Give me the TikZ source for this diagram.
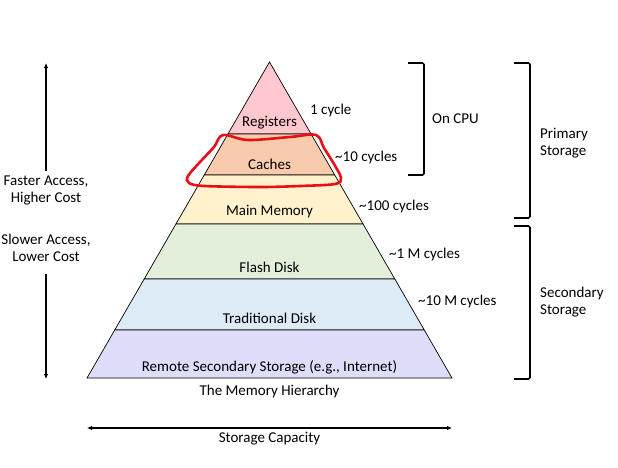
\documentclass[tikz,border=0pt]{standalone}
\usepackage{fontspec}
\setmainfont{Carlito}
\usetikzlibrary{arrows.meta,positioning,calc}

\definecolor{regc}{RGB}{255,199,206}
\definecolor{cachec}{RGB}{248,203,173}
\definecolor{memc}{RGB}{255,242,204}
\definecolor{flashc}{RGB}{226,239,218}
\definecolor{diskc}{RGB}{221,235,247}
\definecolor{netc}{RGB}{222,222,250}
\definecolor{markc}{RGB}{232,16,24}

\begin{document}
\begin{tikzpicture}[x=1pt,y=-1pt,
  lbl/.style={font=\fontsize{15}{17}\selectfont, align=center, inner sep=0pt},
  lvl/.style={draw=black, line width=0.7pt},
  arr/.style={-{Latex[length=5pt,width=4.5pt]}, line width=1.6pt},
  brk/.style={line width=1.6pt, rounded corners=1.5pt}
]
\useasboundingbox (0,0) rectangle (618,467);

% pyramid layers
\foreach \yt/\yb/\col in {62/134/regc, 134/175/cachec, 175/224/memc,
                          224/279/flashc, 279/330/diskc, 330/378/netc}{
  \pgfmathsetmacro{\wt}{0.5775*(\yt-62)}
  \pgfmathsetmacro{\wb}{0.5775*(\yb-62)}
  \filldraw[lvl, fill=\col] (269.5-\wt,\yt) -- (269.5+\wt,\yt)
    -- (269.5+\wb,\yb) -- (269.5-\wb,\yb) -- cycle;
}

\node[lbl] (reg) at (269.5,123) {Registers};
\node[lbl] (cache) at (269.5,164) {Caches};
\node[lbl] (mem) at (269.5,212) {Main Memory};
\node[lbl] (flash) at (269.5,267) {Flash Disk};
\node[lbl] (disk) at (269.5,318) {Traditional Disk};
\node[lbl] (net) at (269.5,367) {Remote Secondary Storage (e.g., Internet)};

% access times
\node[lbl, anchor=west] (c1) at (310,110) {1 cycle};
\node[lbl, anchor=west] (c10) at (335,157) {\textasciitilde10 cycles};
\node[lbl, anchor=west] (c100) at (359,206) {\textasciitilde100 cycles};
\node[lbl, anchor=west] (c1m) at (389,254) {\textasciitilde1 M cycles};
\node[lbl, anchor=west] (c10m) at (418,301) {\textasciitilde10 M cycles};

% brackets
\coordinate (cput) at (424,63);
\coordinate (cpub) at (424,175);
\draw[brk] ($(cput)+(-16,0)$) -- (cput) -- (cpub) -- ($(cpub)+(-16,0)$);
\node[lbl, anchor=west] (cpu) at (432,119) {On CPU};

\coordinate (primt) at (530,63);
\coordinate (primb) at (530,218);
\draw[brk] ($(primt)+(-16,0)$) -- (primt) -- (primb) -- ($(primb)+(-16,0)$);
\node[lbl, anchor=west, align=left] (prim) at (540,143) {Primary\\Storage};

\coordinate (sect) at (530,226);
\coordinate (secb) at (530,379);
\draw[brk] ($(sect)+(-16,0)$) -- (sect) -- (secb) -- ($(secb)+(-16,0)$);
\node[lbl, anchor=west, align=left] (sec) at (540,302) {Secondary\\Storage};

% speed / cost
\node[lbl] (fast) at (46,190) {Faster Access,\\Higher Cost};
\node[lbl] (slow) at (46,248) {Slower Access,\\Lower Cost};
\coordinate (top) at (46,63);
\coordinate (bot) at (46,379);
\draw[arr] ([yshift=4pt]fast.north) -- (top);
\draw[arr] ([yshift=-12pt]slow.south) -- (bot);

% capacity
\node[lbl] (title) at (269.5,391) {The Memory Hierarchy};
\coordinate (capl) at (87,428);
\coordinate (capr) at (452,428);
\draw[arr, line width=1.3pt, {Latex[length=5pt,width=4.5pt]}-{Latex[length=5pt,width=4.5pt]}] (capl) -- (capr);
\node[lbl] (cap) at (269.5,439) {Storage Capacity};

% hand-drawn highlight
\draw[markc, line width=2.6pt] plot[smooth cycle, tension=0.55] coordinates {
  (223,135) (248,140) (290,137) (316,135) (324,148) (334,164) (341,178)
  (335,184) (300,186) (260,187) (205,186) (189,183) (188,176) (200,162) (214,147)};
\end{tikzpicture}
\end{document}
